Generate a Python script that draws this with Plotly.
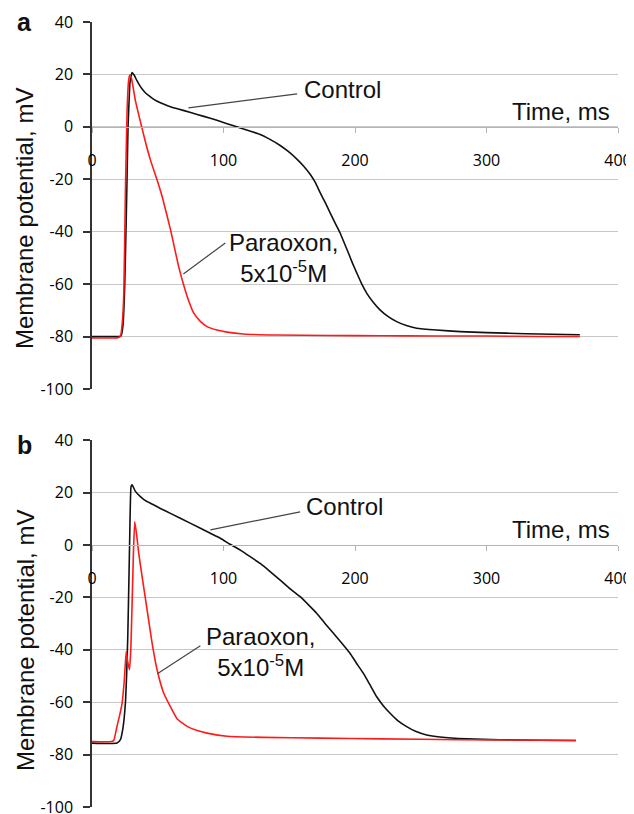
import plotly.graph_objects as go
from plotly.subplots import make_subplots

# ---------------- data ----------------
# Panel a
a_ctrl_t = [0, 20, 22, 23.5, 24.8, 25.9, 26.7, 27.4, 28.2, 28.9, 30.5, 32, 34, 36, 38, 40, 43, 47, 52, 58, 65, 75,
            85, 95, 102.7, 112.8, 120, 127.9, 135, 143.1, 149, 155.8, 161, 165.9, 170, 173.5, 177.5, 181.1, 185, 188.7,
            192, 195, 198, 201.4, 205, 209, 214, 219, 225, 231.7, 239, 246.9, 262, 280, 300, 330, 350, 371]
a_ctrl_v = [-80, -80, -79.8, -76, -62, -38, -18, 0, 10, 17, 20.7, 19.8, 17.8, 16, 14.5, 13.3, 12, 10.5, 9.2, 8, 6.9,
            5.5, 4, 2.5, 1.2, -0.4, -1.6, -2.9, -4.7, -7.1, -9.3, -12.3, -15, -18.1, -21.4, -25.1, -29, -32.8, -36.8,
            -40.5, -44.5, -48.1, -51.9, -55.8, -59.8, -63.5, -67, -69.8, -72.3, -74.3, -75.8, -76.8, -77.5, -78.1,
            -78.5, -78.9, -79.1, -79.3]

a_para_t = [0, 19, 21.6, 23, 24.2, 25.4, 26.7, 27.9, 28.7, 30, 33, 36.8, 40.5, 44.4, 49, 53.3, 59.6, 65.9, 71, 74,
            77.3, 82, 87.5, 95, 102.7, 115, 140, 180, 220, 260, 300, 340, 371]
a_para_v = [-80.5, -80.5, -80, -75, -63.5, -25, 6.5, 17.9, 19.8, 18.5, 10, 2, -5.5, -12.6, -19.5, -26.5, -39, -53.3,
            -62.5, -67, -71, -74, -76.2, -77.5, -78.3, -79, -79.4, -79.6, -79.7, -79.8, -79.8, -80, -80]

# Panel b
b_ctrl_t = [0, 19, 21.6, 23.5, 25.4, 26.3, 27.2, 28.2, 28.7, 29.7, 30.5, 33, 36.8, 40, 44.4, 52, 60, 75, 90, 97.6,
            105, 112.8, 120, 127.9, 135, 143.1, 150, 158.3, 165, 171, 177, 183.6, 190, 196.3, 201, 206.4, 211, 216.5,
            221.5, 226.7, 232.5, 239.3, 246, 254.5, 264.6, 285, 310, 340, 368]
b_ctrl_v = [-75.6, -75.6, -74.3, -70, -60.3, -50, -34.9, -10, 3.3, 22.4, 23, 20.5, 18.5, 17.2, 16, 14, 12, 8.3, 4.5,
            2.6, 0.3, -1.9, -4.3, -7, -9.9, -13.4, -16.4, -19.7, -23, -26.1, -29.8, -33.7, -37.5, -41.4, -45, -49,
            -53, -57.9, -61.3, -64.2, -67, -69.3, -71.1, -72.5, -73.3, -74, -74.3, -74.5, -74.6]

b_para_t = [0, 15, 16.6, 19, 21, 22.9, 24.5, 26, 27, 28.5, 29.5, 30.5, 31.5, 32.5, 34.1, 35.5, 38.1, 41.9, 45.7,
            49.5, 54.5, 60.9, 65, 72.3, 80, 87.5, 102.7, 130, 173.5, 220, 280, 368]
b_para_v = [-75, -75, -74.5, -69.2, -65, -60.3, -52, -40.6, -44, -47.6, -40, -22.1, -3, 9, 3.3, -3, -12, -24.7,
            -37.4, -47.6, -56.5, -62.9, -66.5, -69.2, -70.8, -71.8, -73, -73.4, -73.7, -74, -74.3, -74.6]

x_ticks = [0, 100, 200, 300, 400]
y_ticks = [-100, -80, -60, -40, -20, 0, 20, 40]

# ---------------- figure ----------------
# The page body has an 8px margin, so the figure is drawn 8px in from the top-left corner.
OFF = 8
W, H = 634 - OFF, 814 - OFF
ML, MR, MT, MB = 92 - OFF, 16, 22 - OFF, 7

dom_a = [0.5325, 1.0]
dom_b = [0.0, 0.4671]

fig = make_subplots(rows=2, cols=1)

BLACK = "#111111"
RED = "#ff1a1a"
LINE = dict(width=1.6, shape="spline", smoothing=0.4)

fig.add_trace(go.Scatter(x=a_ctrl_t, y=a_ctrl_v, mode="lines", line=dict(color=BLACK, **LINE),
                         showlegend=False), row=1, col=1)
fig.add_trace(go.Scatter(x=a_para_t, y=a_para_v, mode="lines", line=dict(color=RED, **LINE),
                         showlegend=False), row=1, col=1)
fig.add_trace(go.Scatter(x=b_ctrl_t, y=b_ctrl_v, mode="lines", line=dict(color=BLACK, **LINE),
                         showlegend=False), row=2, col=1)
fig.add_trace(go.Scatter(x=b_para_t, y=b_para_v, mode="lines", line=dict(color=RED, **LINE),
                         showlegend=False), row=2, col=1)

TICKFONT = dict(family="Open Sans, Arial", size=16, color="#000000")
FONT = "Arial, Liberation Sans"


def xpos(dom):
    return dom[0] + (0 - (-100)) / 140 * (dom[1] - dom[0])


for i, dom in enumerate([dom_a, dom_b]):
    xa = "xaxis" if i == 0 else "xaxis2"
    ya = "yaxis" if i == 0 else "yaxis2"
    fig.layout[ya].update(domain=dom, range=[-100, 40], tickvals=y_ticks, ticktext=[str(v) for v in y_ticks],
                          showgrid=True, gridcolor="#c8c8c8", gridwidth=1, zeroline=False,
                          showline=True, linecolor="#333333", linewidth=1.5, ticks="outside", ticklen=7,
                          tickcolor="#333333", tickwidth=1.5, tickfont=TICKFONT, ticklabelstandoff=7,
                          ticklabeloverflow="allow", automargin=False)
    fig.layout[xa].update(range=[0, 400], tickvals=x_ticks, ticktext=[str(v) for v in x_ticks],
                          anchor="free", position=xpos(dom), showgrid=False, zeroline=False,
                          showline=True, linecolor="#b4b4b4", linewidth=1.2, ticks="outside", ticklen=5,
                          tickcolor="#b4b4b4", tickfont=TICKFONT, ticklabelstandoff=14,
                          ticklabeloverflow="allow", automargin=False)


def ann(text, x, y, xref, yref, size=24, **kw):
    fig.add_annotation(text=text, x=x, y=y, xref=xref, yref=yref, showarrow=False,
                       font=dict(family=FONT, size=size, color="#111111"), **kw)


def py(px):
    # reference-image pixel row -> paper fraction
    return 1 - (px - OFF - MT) / (H - MT - MB)


def pxx(px):
    # reference-image pixel column -> paper fraction
    return (px - OFF - ML) / (W - ML - MR)


# panel letters
ann("<b>a</b>", pxx(24.5), py(22), "paper", "paper", size=25, xanchor="center", yanchor="middle")
ann("<b>b</b>", pxx(24.5), py(445), "paper", "paper", size=25, xanchor="center", yanchor="middle")

# y titles
ann("Membrane potential, mV", pxx(25), py(219), "paper", "paper", textangle=-90, xanchor="center", yanchor="middle")
ann("Membrane potential, mV", pxx(25), py(641), "paper", "paper", textangle=-90, xanchor="center", yanchor="middle")

# labels panel a
ann("Control", 190.5, 14.1, "x", "y", xanchor="center", yanchor="middle")
ann("Time, ms", 395.2, 5.7, "x", "y", xanchor="right", yanchor="middle")
ann("Paraoxon,<br>5x10<sup>-5</sup>M", 145.4, -50.2, "x", "y", xanchor="center", yanchor="middle")
# labels panel b
ann("Control", 191.7, 14.6, "x2", "y2", xanchor="center", yanchor="middle")
ann("Time, ms", 395.2, 5.8, "x2", "y2", xanchor="right", yanchor="middle")
ann("Paraoxon,<br>5x10<sup>-5</sup>M", 128, -40.9, "x2", "y2", xanchor="center", yanchor="middle")

# pointer lines
PCOL = "#444444"
fig.add_shape(type="line", x0=73.3, y0=7.25, x1=156, y1=12.6, xref="x", yref="y", line=dict(color=PCOL, width=1.2))
fig.add_shape(type="line", x0=69.5, y0=-56.1, x1=101.4, y1=-44.3, xref="x", yref="y", line=dict(color=PCOL, width=1.2))
fig.add_shape(type="line", x0=90, y0=5.8, x1=158.3, y1=12.7, xref="x2", yref="y2", line=dict(color=PCOL, width=1.2))
fig.add_shape(type="line", x0=49.7, y0=-49.1, x1=82.4, y1=-38.4, xref="x2", yref="y2", line=dict(color=PCOL, width=1.2))

fig.update_layout(width=W, height=H, margin=dict(l=ML, r=MR, t=MT, b=MB, autoexpand=False),
                  plot_bgcolor="white", paper_bgcolor="white", showlegend=False)

fig.write_html("out.html")
